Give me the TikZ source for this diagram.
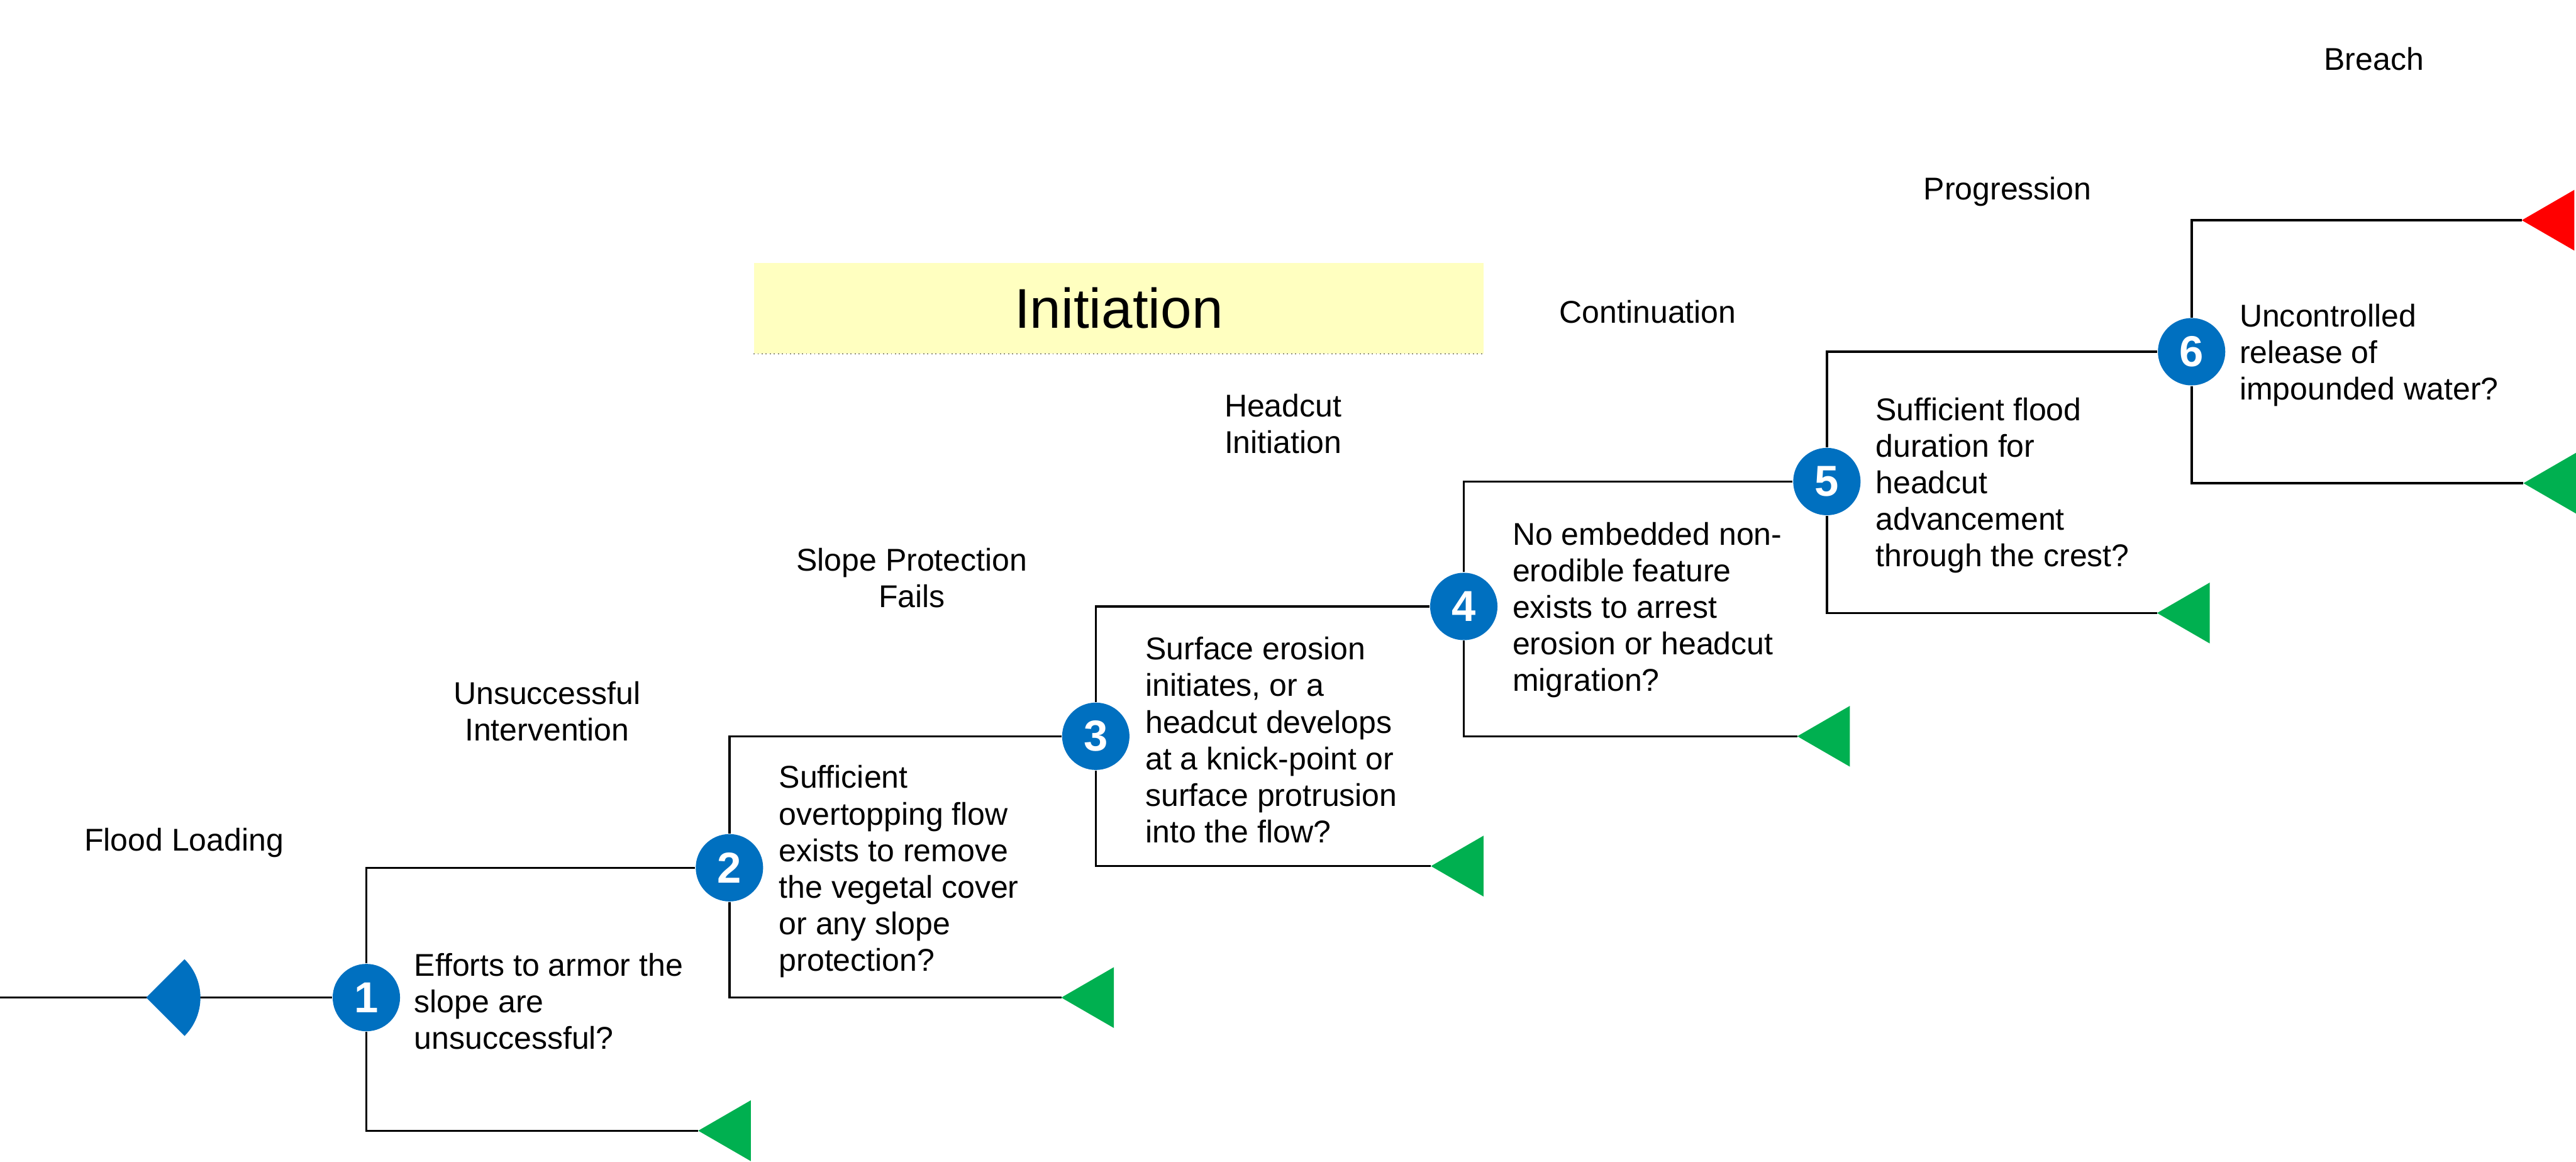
\documentclass[tikz,border=0pt]{standalone}
\usepackage{fontspec}
\setmainfont{Liberation Sans}
\definecolor{nblue}{HTML}{0070C0}
\definecolor{ngreen}{HTML}{00B050}
\definecolor{nred}{HTML}{FF0000}
\definecolor{pale}{HTML}{FFFFC0}
\newcommand{\outtri}[2]{\fill[#2] (#1) -- ++(32,-18.5) -- ++(0,37) -- cycle;}
\begin{document}
\begin{tikzpicture}[x=0.02cm,y=-0.02cm,
  ln/.style={line width=0.75pt,black},
  num/.style={circle,fill=nblue,text=white,font=\fontsize{15}{15}\selectfont\bfseries,inner sep=0pt,minimum size=0.82cm},
  phase/.style={align=center,font=\fontsize{10.9}{12.65}\selectfont,inner sep=0pt,yshift=-0.035cm},
  quest/.style={align=left,anchor=west,font=\fontsize{10.9}{12.65}\selectfont,inner sep=0pt,yshift=-0.045cm}]
\useasboundingbox (0,0) rectangle (1568,706.8);

% phase labels
\node[phase] (lflood) at (112,511) {Flood Loading};
\node[phase] (lunsucc) at (333,431) {Unsuccessful\\Intervention};
\node[phase] (lslope) at (555,350) {Slope Protection\\Fails};
\node[phase] (lhead) at (781,256) {Headcut\\Initiation};
\node[phase] (lcont) at (1003,188) {Continuation};
\node[phase] (lprog) at (1222,115) {Progression};
\node[phase] (lbreach) at (1445,34) {Breach};

% Initiation banner
\node[fill=pale,minimum width=444*0.02cm,minimum height=55*0.02cm,inner sep=0pt,
      font=\fontsize{19.4}{22}\selectfont] (init) at (681,187.5) {Initiation};
\draw[line width=0.4pt,densely dotted,black!80] (init.south west) -- (init.south east);

% event nodes
\node[num] (n1) at (223,607) {1};
\node[num] (n2) at (444,528) {2};
\node[num] (n3) at (667,448) {3};
\node[num] (n4) at (891,369) {4};
\node[num] (n5) at (1112,293) {5};
\node[num] (n6) at (1334,214) {6};

% end points
\coordinate (start) at (0,607);
\coordinate (s0) at (89,607);
\coordinate (t1) at (425,688);
\coordinate (t2) at (646,607);
\coordinate (t3) at (871,527);
\coordinate (t4) at (1094,448);
\coordinate (t5) at (1313,373);
\coordinate (t6) at (1536,294);
\coordinate (r6) at (1535,134);

% connectors
\draw[ln] (start) -- (n1);
\draw[ln] (n1) |- (n2);
\draw[ln] (n1) |- (t1);
\draw[ln] (n2) |- (n3);
\draw[ln] (n2) |- (t2);
\draw[ln] (n3) |- (n4);
\draw[ln] (n3) |- (t3);
\draw[ln] (n4) |- (n5);
\draw[ln] (n4) |- (t4);
\draw[ln] (n5) |- (n6);
\draw[ln] (n5) |- (t5);
\draw[ln] (n6) |- (r6);
\draw[ln] (n6) |- (t6);

% initiating event symbol
\fill[nblue] (s0) -- ++(45:33) arc[start angle=45,end angle=-45,radius=33] -- cycle;

% end triangles
\outtri{t1}{ngreen}
\outtri{t2}{ngreen}
\outtri{t3}{ngreen}
\outtri{t4}{ngreen}
\outtri{t5}{ngreen}
\outtri{t6}{ngreen}
\outtri{r6}{nred}

% questions
\node[quest] (q1) at ([xshift=0.16cm]n1.east) {Efforts to armor the\\slope are\\unsuccessful?};
\node[quest] (q2) at ([xshift=0.18cm]n2.east) {Sufficient\\overtopping flow\\exists to remove\\the vegetal cover\\or any slope\\protection?};
\node[quest] (q3) at ([xshift=0.18cm]n3.east) {Surface erosion\\initiates, or a\\headcut develops\\at a knick-point or\\surface protrusion\\into the flow?};
\node[quest] (q4) at ([xshift=0.17cm]n4.east) {No embedded non-\\erodible feature\\exists to arrest\\erosion or headcut\\migration?};
\node[quest] (q5) at ([xshift=0.17cm]n5.east) {Sufficient flood\\duration for\\headcut\\advancement\\through the crest?};
\node[quest] (q6) at ([xshift=0.16cm]n6.east) {Uncontrolled\\release of\\impounded water?};
\end{tikzpicture}
\end{document}
